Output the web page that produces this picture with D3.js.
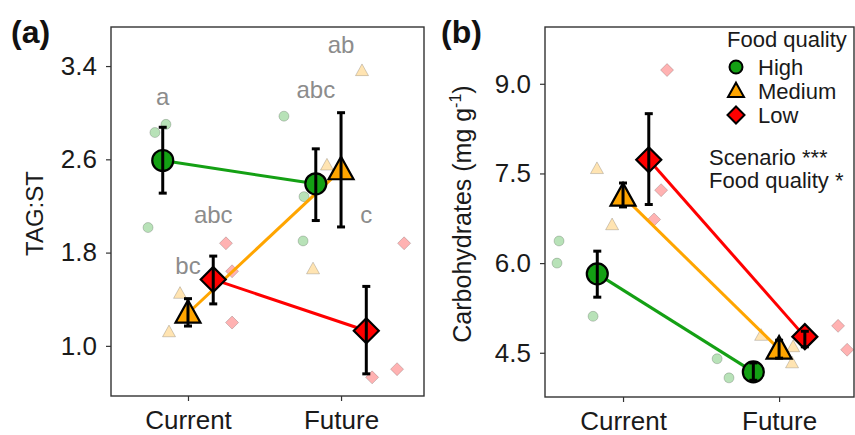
<!DOCTYPE html>
<html>
<head>
<meta charset="utf-8">
<script src="https://cdn.jsdelivr.net/npm/d3@7"></script>
<style>
  body { margin: 0; background: #fff; }
  svg { font-family: "Liberation Sans", Arial, sans-serif; }
  .axis text { fill: #1a1a1a; font-size: 26px; }
  .axis line { stroke: #333; stroke-width: 1.2; }
  .axis .domain { display: none; }
</style>
</head>
<body>
<svg width="855" height="435"></svg>
<script>
// ---- data ----
const scenarios = ['Current', 'Future'];
const qualities = ['High', 'Medium', 'Low'];
const colors = ['#14a014', '#ffa500', '#ff0000'];

// rows = High, Medium, Low ; cols = Current, Future
const tagMean  = [[2.59, 2.39], [1.28, 2.51], [1.57, 1.13]];
const tagLower = [[2.31, 2.075], [1.17, 2.02], [1.36, 0.76]];
const tagUpper = [[2.875, 2.69], [1.405, 3.0], [1.77, 1.51]];
const tagLetters = [['a', 'abc'], ['bc', 'ab'], ['abc', 'c']];
const tagLetterY = [[3.065, 3.126], [1.62, 3.51], [2.05, 2.05]];
// raw replicates: [quality, scenario, x offset, value]
const tagRaw = [
  [0, 0, -0.216, 2.83], [0, 0, -0.144, 2.90], [0, 0, -0.261, 2.015],
  [0, 1, -0.373, 2.97], [0, 1, -0.242, 2.28], [0, 1, -0.248, 1.90],
  [1, 0, -0.052, 1.45], [1, 0, -0.124, 1.12],
  [1, 1, 0.137, 3.36], [1, 1, -0.092, 2.55], [1, 1, -0.183, 1.66],
  [2, 0, 0.248, 1.88], [2, 0, 0.288, 1.64], [2, 0, 0.288, 1.20],
  [2, 1, 0.203, 0.73], [2, 1, 0.366, 0.80], [2, 1, 0.412, 1.88]
];
const tagTicks = [1.0, 1.8, 2.6, 3.4];

const carbMean  = [[5.82, 4.18], [7.12, 4.56], [7.73, 4.77]];
const carbLower = [[5.43, 4.04], [6.94, 4.41], [6.98, 4.60]];
const carbUpper = [[6.20, 4.33], [7.34, 4.71], [8.50, 4.86]];
const carbRaw = [
  [0, 0, -0.41, 6.37], [0, 0, -0.423, 6.0], [0, 0, -0.192, 5.11],
  [0, 1, -0.397, 4.40], [0, 1, -0.321, 4.08],
  [1, 0, -0.167, 7.58], [1, 0, -0.07, 6.64],
  [1, 1, -0.115, 4.79], [1, 1, 0.09, 4.60], [1, 1, 0.083, 4.33],
  [2, 0, 0.282, 9.23], [2, 0, 0.244, 7.22], [2, 0, 0.199, 6.73],
  [2, 1, 0.378, 4.95], [2, 1, 0.436, 4.55]
];
const carbTicks = [4.5, 6.0, 7.5, 9.0];

const dodge = [-0.165, 0, 0.165];

const svg = d3.select('svg');

// marker paths centred on 0,0 ; s = half width
function shapePath(q, s) {
  if (q === 0) return circlePath(s);
  if (q === 1) {
    const h = s * 1.8;
    return `M0,${-h * 0.58}L${s},${h * 0.42}L${-s},${h * 0.42}Z`;
  }
  return `M0,${-s}L${s},0L0,${s}L${-s},0Z`;
}
function circlePath(r) {
  const p = d3.path();
  p.arc(0, 0, r, 0, 2 * Math.PI);
  p.closePath();
  return p.toString();
}
const meanSize = [10.5, 12.5, 12.5];
const rawSize = [5, 6.5, 6.5];

function panel(cfg) {
  const {left, right, top, bottom, xDomain, yDomain, mean, lower, upper, raw, ticks, title, label, yLabel, yLabelX} = cfg;

  const x = d3.scaleLinear().domain(xDomain).range([left, right]);
  const y = d3.scaleLinear().domain(yDomain).range([bottom, top]);

  const g = svg.append('g');

  g.append('rect')
    .attr('x', left).attr('y', top)
    .attr('width', right - left).attr('height', bottom - top)
    .attr('fill', '#fff');

  // raw points
  g.append('g').selectAll('path')
    .data(raw)
    .enter().append('path')
    .attr('d', d => shapePath(d[0], rawSize[d[0]]))
    .attr('transform', d => `translate(${x(d[1] + 1 + d[2])},${y(d[3])})`)
    .attr('fill', d => colors[d[0]])
    .attr('fill-opacity', 0.3)
    .attr('stroke', '#000')
    .attr('stroke-opacity', 0.18)
    .attr('stroke-width', 1);

  // lines
  const line = d3.line()
    .x((d, i) => x(i + 1 + d.off))
    .y(d => y(d.v));
  qualities.forEach((q, qi) => {
    g.append('path')
      .datum(mean[qi].map(v => ({v: v, off: dodge[qi]})))
      .attr('d', line)
      .attr('fill', 'none')
      .attr('stroke', colors[qi])
      .attr('stroke-width', 3);
  });

  const cells = [];
  qualities.forEach((q, qi) => scenarios.forEach((s, si) => cells.push({qi, si})));

  // mean markers
  g.append('g').selectAll('path')
    .data(cells)
    .enter().append('path')
    .attr('d', d => shapePath(d.qi, meanSize[d.qi]))
    .attr('transform', d => `translate(${x(d.si + 1 + dodge[d.qi])},${y(mean[d.qi][d.si])})`)
    .attr('fill', d => colors[d.qi])
    .attr('stroke', '#000')
    .attr('stroke-width', 2.2)
    .attr('stroke-linejoin', 'miter');

  // error bars
  const eb = g.append('g').attr('stroke', '#000').attr('stroke-width', 3);
  cells.forEach(d => {
    const cx = x(d.si + 1 + dodge[d.qi]);
    const y1 = y(upper[d.qi][d.si]), y0 = y(lower[d.qi][d.si]);
    eb.append('line').attr('x1', cx).attr('x2', cx).attr('y1', y1).attr('y2', y0);
    eb.append('line').attr('x1', cx - 4).attr('x2', cx + 4).attr('y1', y1).attr('y2', y1);
    eb.append('line').attr('x1', cx - 4).attr('x2', cx + 4).attr('y1', y0).attr('y2', y0);
  });

  // box
  g.append('rect')
    .attr('x', left).attr('y', top)
    .attr('width', right - left).attr('height', bottom - top)
    .attr('fill', 'none')
    .attr('stroke', '#333')
    .attr('stroke-width', 1.4);

  g.append('g')
    .attr('class', 'axis')
    .attr('transform', `translate(${left},0)`)
    .call(d3.axisLeft(y).tickValues(ticks).tickFormat(d3.format('.1f')).tickSize(5).tickPadding(9));

  g.append('g')
    .attr('class', 'axis')
    .attr('transform', `translate(0,${bottom})`)
    .call(d3.axisBottom(x).tickValues([1, 2]).tickFormat(d => scenarios[d - 1]).tickSize(5).tickPadding(10));

  g.append('text')
    .attr('x', label[0]).attr('y', label[1])
    .attr('font-size', 32).attr('font-weight', 'bold')
    .attr('fill', '#111')
    .text(title);

  const yl = g.append('text')
    .attr('transform', `translate(${yLabelX},${(top + bottom) / 2 + 2}) rotate(-90)`)
    .attr('text-anchor', 'middle')
    .attr('font-size', cfg.yLabelSize)
    .attr('fill', '#1a1a1a');
  yLabel(yl);

  return {g, x, y};
}

// ---- panel (a) ----
const a = panel({
  left: 111, right: 424, top: 27, bottom: 396,
  xDomain: [0.497, 2.542], yDomain: [0.57, 3.735],
  mean: tagMean, lower: tagLower, upper: tagUpper, raw: tagRaw,
  ticks: tagTicks, title: '(a)', label: [11, 43],
  yLabelX: 43, yLabelSize: 24,
  yLabel: t => t.text('TAG:ST')
});

a.g.append('g').selectAll('text')
  .data(qualities.flatMap((q, qi) => scenarios.map((s, si) => ({qi, si}))))
  .enter().append('text')
  .attr('x', d => a.x(d.si + 1 + dodge[d.qi]))
  .attr('y', d => a.y(tagLetterY[d.qi][d.si]))
  .attr('text-anchor', 'middle')
  .attr('font-size', 24)
  .attr('fill', '#8c8c8c')
  .text(d => tagLetters[d.qi][d.si]);

// ---- panel (b) ----
const b = panel({
  left: 545, right: 854, top: 27, bottom: 397,
  xDomain: [0.5, 2.48], yDomain: [3.76, 9.95],
  mean: carbMean, lower: carbLower, upper: carbUpper, raw: carbRaw,
  ticks: carbTicks, title: '(b)', label: [441, 43],
  yLabelX: 471, yLabelSize: 25,
  yLabel: t => {
    t.append('tspan').text('Carbohydrates (mg g');
    t.append('tspan').attr('font-size', 16).attr('dy', -10).text('-1');
    t.append('tspan').attr('dy', 10).text(')');
  }
});

// legend
const legend = b.g.append('g').attr('transform', 'translate(727,0)');
legend.append('text')
  .attr('x', 0).attr('y', 47)
  .attr('font-size', 22).attr('fill', '#1a1a1a')
  .text('Food quality');
const legendSize = [6.5, 8, 8.5];
const items = legend.selectAll('.item')
  .data(qualities)
  .enter().append('g')
  .attr('class', 'item')
  .attr('transform', (d, i) => `translate(0,${67 + i * 24})`);
items.append('path')
  .attr('d', (d, i) => shapePath(i, legendSize[i]))
  .attr('transform', 'translate(9,0)')
  .attr('fill', (d, i) => colors[i])
  .attr('stroke', '#000')
  .attr('stroke-width', 2);
items.append('text')
  .attr('x', 31).attr('y', 8)
  .attr('font-size', 22).attr('fill', '#1a1a1a')
  .text(d => d);

b.g.append('text')
  .attr('x', 709).attr('y', 165)
  .attr('font-size', 22).attr('fill', '#1a1a1a')
  .text('Scenario ***');
b.g.append('text')
  .attr('x', 709).attr('y', 188)
  .attr('font-size', 22).attr('fill', '#1a1a1a')
  .text('Food quality *');
</script>
</body>
</html>
